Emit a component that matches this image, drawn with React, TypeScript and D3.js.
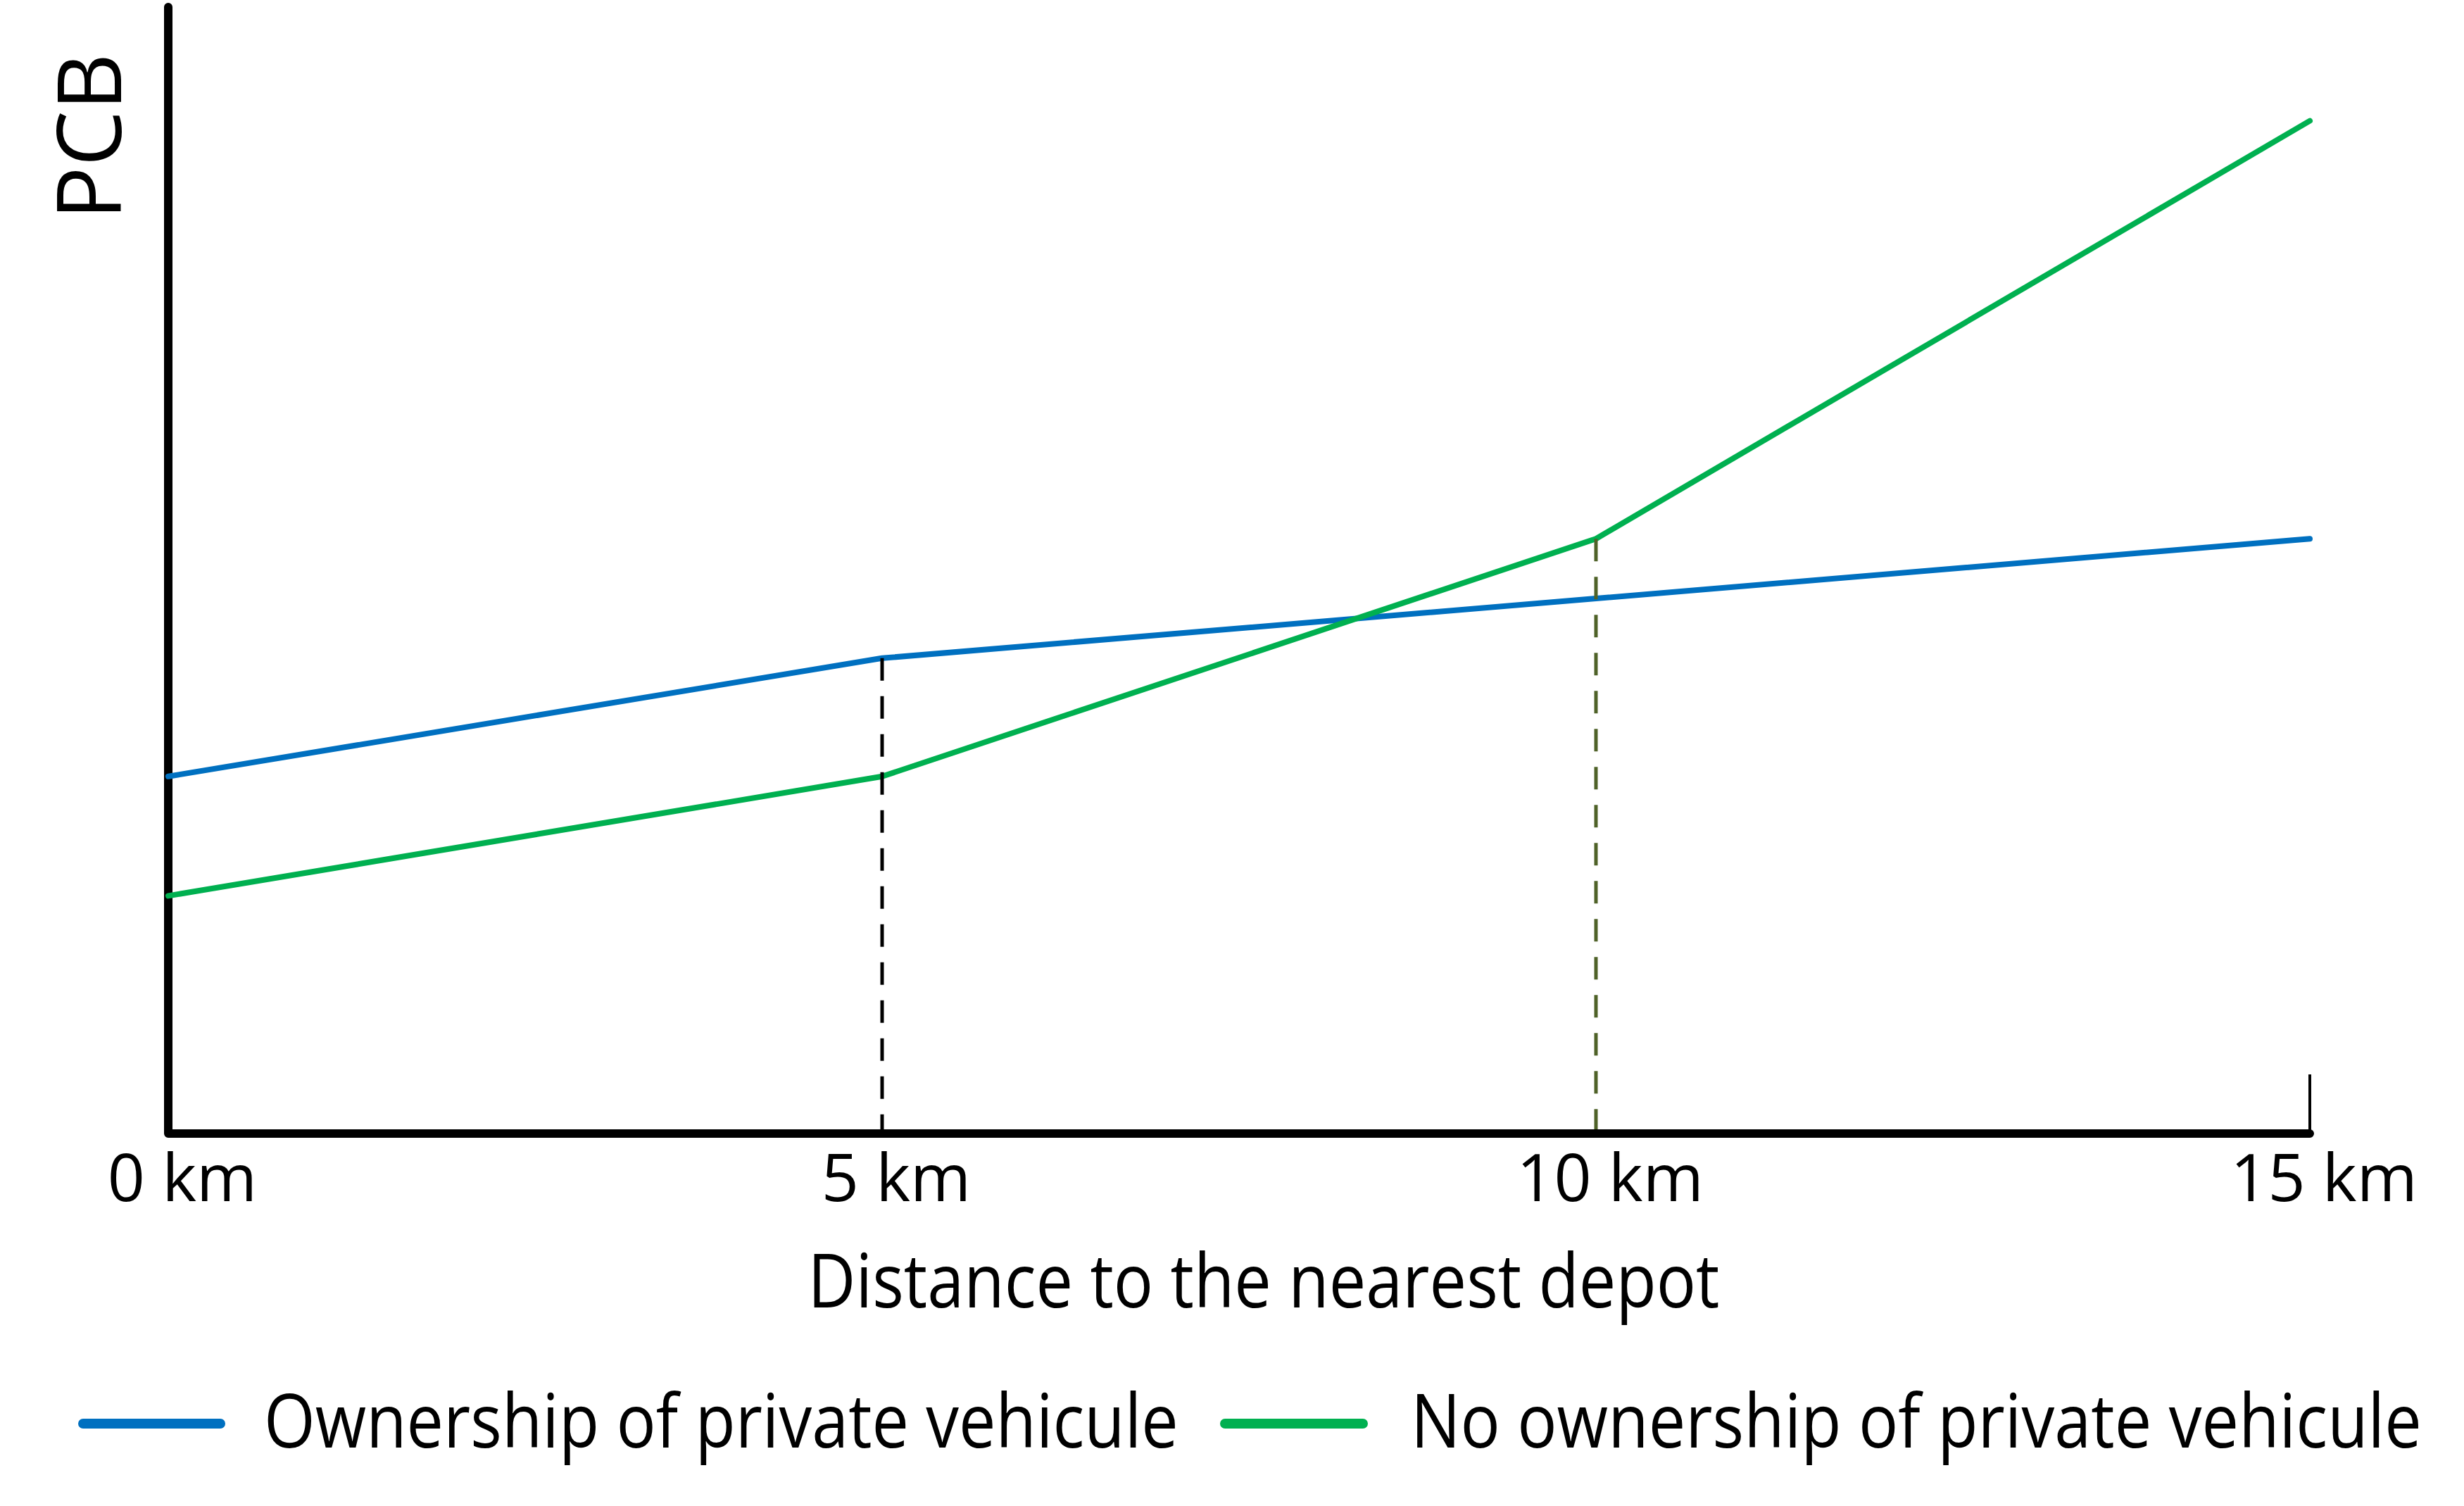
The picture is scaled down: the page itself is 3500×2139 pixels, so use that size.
import React, { useLayoutEffect, useRef, useState } from 'react'
import * as d3 from 'd3'

// distance to nearest depot (km) and PCB in arbitrary units (no y ticks in the source)
const distances = [0, 5, 10, 15]
const xTicks = [0, 5, 10, 15]
const tickLabels = ['0 km', '5 km', '10 km', '15 km']
const ownership = [31.7, 42.2, 47.5, 52.8]
const noOwnership = [21.1, 31.7, 52.8, 89.9]
const seriesNames = ['Ownership of private vehicule', 'No ownership of private vehicule']
const seriesColors = ['#0070C0', '#00B050']

const W = 3500
const H = 2139
const FONT = "'Open Sans', 'Noto Sans', sans-serif"

// squeezes a text horizontally to a given width (the source font is narrower than Open Sans)
const FitText = ({ x, y, width, fontSize, anchor = 'start', children }) => {
    const ref = useRef<SVGTextElement>(null)
    const [sx, setSx] = useState(1)
    useLayoutEffect(() => {
        if (ref.current) {
            const natural = ref.current.getComputedTextLength()
            if (natural > 0) setSx(width / natural)
        }
    }, [width, fontSize, children])
    return (
        <text ref={ref} transform={`translate(${x},${y}) scale(${sx},1)`}
            textAnchor={anchor} fontSize={fontSize} fill='#000'>
            {children}
        </text>
    )
}

export default function App() {
    const x = d3.scaleLinear().domain([0, 15]).range([239, 3281])
    const y = d3.scaleLinear().domain([0, 100]).range([1610, 10])

    const line = d3.line<number>()
        .x((d, i) => x(distances[i]))
        .y(d => y(d))

    const series = [ownership, noOwnership]

    // dashed drop lines: blue at 5 km, green at 10 km
    const drops = [
        { at: 5, top: ownership[1], color: '#000000' },
        { at: 10, top: noOwnership[2], color: '#4F6228' },
    ]

    const legend = [
        { x1: 118, x2: 313, tx: 375, tw: 1299 },
        { x1: 1740, x2: 1936, tx: 2004, tw: 1436 },
    ]

    return (
        <svg width={W} height={H} style={{ position: 'absolute', left: 0, top: 0, background: '#fff' }}
            fontFamily={FONT}>
            {/* axes */}
            <path
                d={`M${x(0)},${y(100)} L${x(0)},${y(0)} L${x(15)},${y(0)}`}
                fill='none' stroke='#000' strokeWidth={12}
                strokeLinejoin='round' strokeLinecap='round'
            />
            <line x1={x(15)} x2={x(15)} y1={y(0)} y2={y(0) - 84} stroke='#000' strokeWidth={4} />

            {series.map((s, i) => (
                <path key={i} d={line(s) || ''} fill='none' stroke={seriesColors[i]}
                    strokeWidth={8} strokeLinejoin='round' strokeLinecap='round' />
            ))}

            {drops.map((d, i) => (
                <line key={i} x1={x(d.at)} x2={x(d.at)} y1={y(d.top)} y2={y(0) - 6}
                    stroke={d.color} strokeWidth={5} strokeDasharray='32 22' />
            ))}

            {/* tick labels */}
            {xTicks.map((t, i) => (
                <text key={t} x={x(t) + 20} y={1706} textAnchor='middle' fontSize={93} fill='#000'>
                    {tickLabels[i]}
                </text>
            ))}

            <FitText x={1795} y={1857} width={1295} fontSize={106} anchor='middle'>
                Distance to the nearest depot
            </FitText>

            <text transform='translate(172,194) rotate(-90)' textAnchor='middle' fontSize={126} fill='#000'>
                PCB
            </text>

            {/* legend */}
            {legend.map((l, i) => (
                <g key={i}>
                    <line x1={l.x1} x2={l.x2} y1={2022} y2={2022} stroke={seriesColors[i]}
                        strokeWidth={14} strokeLinecap='round' />
                    <FitText x={l.tx} y={2056} width={l.tw} fontSize={106}>
                        {seriesNames[i]}
                    </FitText>
                </g>
            ))}
        </svg>
    )
}
